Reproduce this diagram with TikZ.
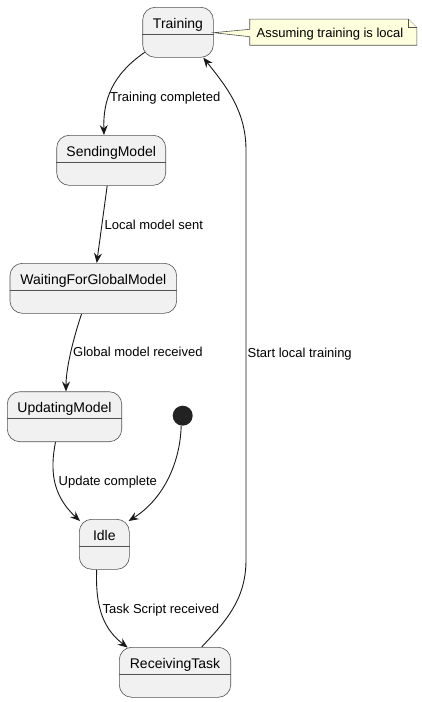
\documentclass[tikz,border=0pt]{standalone}
\usepackage{fontspec}
\setmainfont{Liberation Sans}
\usetikzlibrary{arrows.meta,backgrounds}
\definecolor{stfill}{HTML}{F1F1F1}
\definecolor{stline}{HTML}{181818}
\definecolor{notefill}{HTML}{FEFFDD}
\definecolor{initfill}{HTML}{222222}
\begin{document}
\begin{tikzpicture}[x=1pt,y=-1pt,
  statebox/.style={draw=stline!75, line width=0.6pt, fill=stfill, rounded corners=12.5pt, inner sep=0pt, minimum height=50pt},
  divider/.style={draw=stline!75, line width=0.6pt},
  sttext/.style={anchor=base, inner sep=0pt, font=\fontsize{14}{16}\selectfont},
  lbl/.style={anchor=base west, inner sep=0pt, font=\fontsize{13}{15}\selectfont},
  edge/.style={draw=stline, line width=0.9pt, -{Stealth[length=10pt,width=8pt,inset=3.5pt]}},
  notebox/.style={draw=stline!75, line width=0.6pt, fill=notefill},
  initst/.style={circle, fill=initfill, minimum size=20pt, inner sep=0pt}
]
\useasboundingbox (0,0) rectangle (422,702);
\newcommand\mkstate[5]{%
  \node[statebox, minimum width=#4pt] (#1) at (#2,#3) {};
  \draw[divider] ([shift={(0,27)}]#1.north west) -- ([shift={(0,27)}]#1.north east);
  \node[sttext] (#1txt) at ([shift={(0,21)}]#1.north) {#5};
}
\mkstate{train}{178}{32.3}{70.6}{Training}
\mkstate{send}{111.2}{160.3}{109}{SendingModel}
\mkstate{wait}{93.3}{288.3}{166.7}{WaitingForGlobalModel}
\mkstate{upd}{64.5}{416.7}{114.4}{UpdatingModel}
\mkstate{idle}{104.3}{544.3}{50}{Idle}
\mkstate{recv}{175}{672.3}{111.4}{ReceivingTask}
\node[initst] (init) at (182.7,415.7) {};

% note
\node[inner sep=0pt, minimum width=166.7pt, minimum height=25.7pt] (note) at (333.3,32.2) {};
\draw[notebox] (note.north west) -- ([shift={(-8.5,0)}]note.north east)
  -- ([shift={(0,8.5)}]note.north east) -- (note.south east) -- (note.south west)
  -- ([shift={(0,4.5)}]note.west) -- ([shift={(0,0.4)}]train.east)
  -- ([shift={(0,-2.9)}]note.west) -- cycle;
\draw[notebox] ([shift={(-8.5,0)}]note.north east) -- ([shift={(-8.5,8.5)}]note.north east) -- ([shift={(0,8.5)}]note.north east);
\node[lbl] (notetxt) at (256.5,37) {Assuming training is local};

\begin{scope}[on background layer]
\draw[edge] ([shift={(2.3,-5.3)}]train.south west) .. controls (112,75) and (103,100) .. ([shift={(-7.2,0)}]send.north);
\draw[edge] ([shift={(-4,0)}]send.south) -- ([shift={(3.4,0)}]wait.north);
\draw[edge] ([shift={(-11.6,0)}]wait.south) .. controls (76,330) and (66,365) .. ([shift={(1.5,0)}]upd.north);
\draw[edge] ([shift={(-9,0)}]upd.south) .. controls (50,470) and (52,495) .. ([shift={(1,2)}]idle.north west);
\draw[edge] ([shift={(-1.5,0)}]init.south) .. controls (180,465) and (162,500) .. ([shift={(-1,2)}]idle.north east);
\draw[edge] ([shift={(-7.6,0)}]idle.south) .. controls (95,610) and (105,630) .. ([shift={(8.7,0.6)}]recv.north west);
\draw[edge] ([shift={(26.7,0)}]recv.north) .. controls (225,622) and (246,600) .. (246,560)
  -- (246,150) .. controls (246,110) and (225,85) .. ([shift={(25.3,0)}]train.south);
\end{scope}

\node[lbl] (l1) at (110,101) {Training completed};
\node[lbl] (l2) at (104.5,229) {Local model sent};
\node[lbl] (l3) at (73,356.5) {Global model received};
\node[lbl] (l4) at (58.5,485) {Update complete};
\node[lbl] (l5) at (102.5,613) {Task Script received};
\node[lbl] (l6) at (247.5,357) {Start local training};
\end{tikzpicture}
\end{document}
